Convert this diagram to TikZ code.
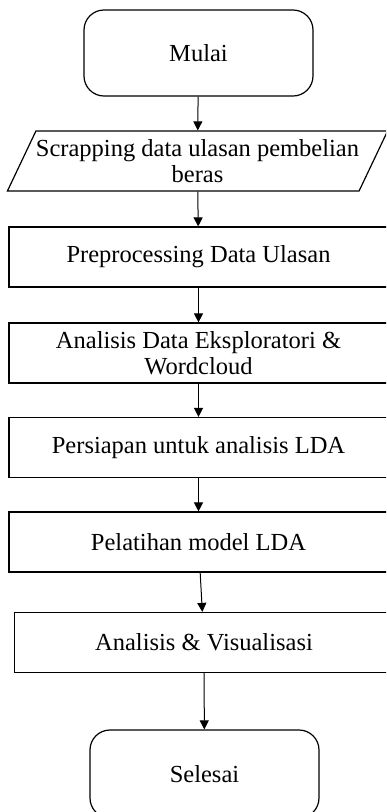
\documentclass[tikz,border=0pt]{standalone}
\usepackage{fontspec}
\setmainfont{Liberation Serif}
\usepackage{tikz}
\usetikzlibrary{arrows.meta, shapes.geometric}

\begin{document}
\begin{tikzpicture}[x=1pt, y=-1pt,
        every node/.style={draw, line width=1.2pt, align=center, inner sep=0pt,
        font=\fontsize{24.5}{25.5}\selectfont},
        term/.style={rectangle, rounded corners=20pt, minimum width=229pt, minimum height=86pt},
        proc/.style={rectangle, minimum width=379pt, minimum height=60pt},
        io/.style={trapezium, trapezium left angle=56.3, trapezium right angle=123.7,
        trapezium stretches=true, minimum width=375pt, minimum height=60pt},
        arr/.style={line width=1pt, -{Triangle[width=9pt,length=9pt]}}]
        \clip (0,0) rectangle (386,812);
        \node[term] (A) at (198.5, 53) {Mulai};
        \node[io] (B) at (197.5, 161) {Scrapping data ulasan pembelian\\beras};
        \node[proc] (C) at (198.5, 257) {Preprocessing Data Ulasan};
        \node[proc] (D) at (198.5, 353) {Analisis Data Eksploratori \&\\Wordcloud};
        \node[proc] (E) at (198.5, 447.5) {Persiapan untuk analisis LDA};
        \node[proc] (F) at (198.5, 542) {Pelatihan model LDA};
        \node[proc] (G) at (204, 642.5) {Analisis \& Visualisasi};
        \node[term, minimum height=88pt] (H) at (204.5, 774) {Selesai};

        \draw[arr] (A) -- (B);
        \draw[arr] (B) -- (C);
        \draw[arr] (C) -- (D);
        \draw[arr] (D) -- (E);
        \draw[arr] (E) -- (F);
        \draw[arr] (F) -- (G);
        \draw[arr] (G) -- (H);
    \end{tikzpicture}
\end{document}
